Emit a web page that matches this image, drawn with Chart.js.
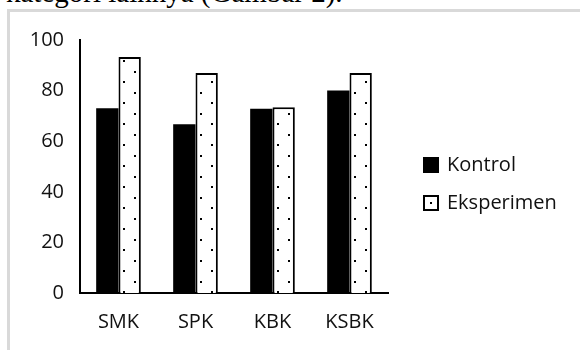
<!DOCTYPE html>
<html>
<head>
<meta charset="utf-8">
<script src="https://cdn.jsdelivr.net/npm/chart.js@4.4.1/dist/chart.umd.min.js"></script>
<style>
  html, body { margin: 0; padding: 0; background: #fff; width: 580px; height: 350px; overflow: hidden; }
  .caption { position: absolute; left: 6px; top: -22px; font-family: "Liberation Serif", "Times New Roman", serif; font-size: 29px; line-height: 29px; color: #000; white-space: nowrap; }
  .frame { position: absolute; left: 7px; top: 9px; width: 620px; height: 400px; border-left: 3px solid #d9d9d9; border-top: 3px solid #d9d9d9; }
  .chart-container { position: absolute; left: 0; top: 0; width: 580px; height: 350px; }
</style>
</head>
<body>
<div class="caption">kategori lainnya (Gambar 2).</div>
<div class="frame"></div>
<div class="chart-container"><canvas id="chart" width="580" height="350"></canvas></div>
<script>
const categories = ['SMK', 'SPK', 'KBK', 'KSBK'];
const kontrol = [73, 66.7, 72.8, 80];
const eksperimen = [93.3, 87, 73.4, 87];
const yTicks = [0, 20, 40, 60, 80, 100];

const canvas = document.getElementById('chart');
const ctx = canvas.getContext('2d');

// dotted fill for the Eksperimen bars
function dotPattern() {
  const c = document.createElement('canvas');
  c.width = 22; c.height = 21;
  const g = c.getContext('2d');
  g.fillStyle = '#fff';
  g.fillRect(0, 0, 22, 21);
  g.fillStyle = '#000';
  g.fillRect(13, 18, 2, 2);
  g.fillRect(2, 8, 2, 2);
  return ctx.createPattern(c, 'repeat');
}

function legendIcon(kind) {
  const c = document.createElement('canvas');
  c.width = 16; c.height = 16;
  const g = c.getContext('2d');
  g.fillStyle = '#000';
  if (kind === 'solid') {
    g.fillRect(0, 0, 16, 16);
  } else {
    g.strokeStyle = '#000';
    g.lineWidth = 2;
    g.strokeRect(1, 1, 14, 14);
    g.fillRect(7, 7, 2, 2);
  }
  return c;
}

const textColor = '#111';
const font = { family: 'Open Sans', size: 20 };

// legend on the right, Excel style (the built-in one gets squeezed by the layout)
const sideLegend = {
  id: 'sideLegend',
  afterDraw(chart) {
    const { ctx, chartArea } = chart;
    const x = chartArea.right + 35;
    let y = chartArea.top + 125;
    ctx.save();
    ctx.font = '20px "Open Sans"';
    ctx.fillStyle = textColor;
    ctx.textBaseline = 'middle';
    chart.data.datasets.forEach(ds => {
      ctx.drawImage(ds.pointStyle, x, y - 8);
      ctx.fillText(ds.label, x + 24, y);
      y += 38;
    });
    ctx.restore();
  },
};

function draw() {
  new Chart(ctx, {
    type: 'bar',
    data: {
      labels: categories,
      datasets: [
        {
          label: 'Kontrol',
          data: kontrol,
          backgroundColor: '#000',
          borderWidth: 0,
          pointStyle: legendIcon('solid'),
          categoryPercentage: 0.58,
          barPercentage: 1,
        },
        {
          label: 'Eksperimen',
          data: eksperimen,
          backgroundColor: dotPattern(),
          borderColor: '#000',
          borderWidth: 2,
          pointStyle: legendIcon('dots'),
          categoryPercentage: 0.58,
          barPercentage: 1,
        },
      ],
    },
    options: {
      responsive: false,
      animation: false,
      devicePixelRatio: 1,
      layout: { padding: { top: 40, bottom: 22, left: 0, right: 192 } },
      plugins: {
        tooltip: { enabled: false },
        legend: { display: false },
      },
      scales: {
        x: {
          grid: { display: false, drawTicks: false },
          border: { display: true, color: '#000', width: 2 },
          ticks: { color: textColor, font: font, padding: 17 },
          afterFit: s => { s.height = 35; },
        },
        y: {
          min: 0,
          max: 100,
          grid: { display: false, drawTicks: false },
          border: { display: true, color: '#000', width: 2 },
          ticks: { color: textColor, font: font, padding: 16 },
          afterBuildTicks: s => { s.ticks = yTicks.map(v => ({ value: v })); },
          afterFit: s => { s.width = 80; },
        },
      },
    },
    plugins: [sideLegend],
  });
}

Promise.all([
  document.fonts.load('20px "Open Sans"'),
]).then(draw, draw);
</script>
</body>
</html>
